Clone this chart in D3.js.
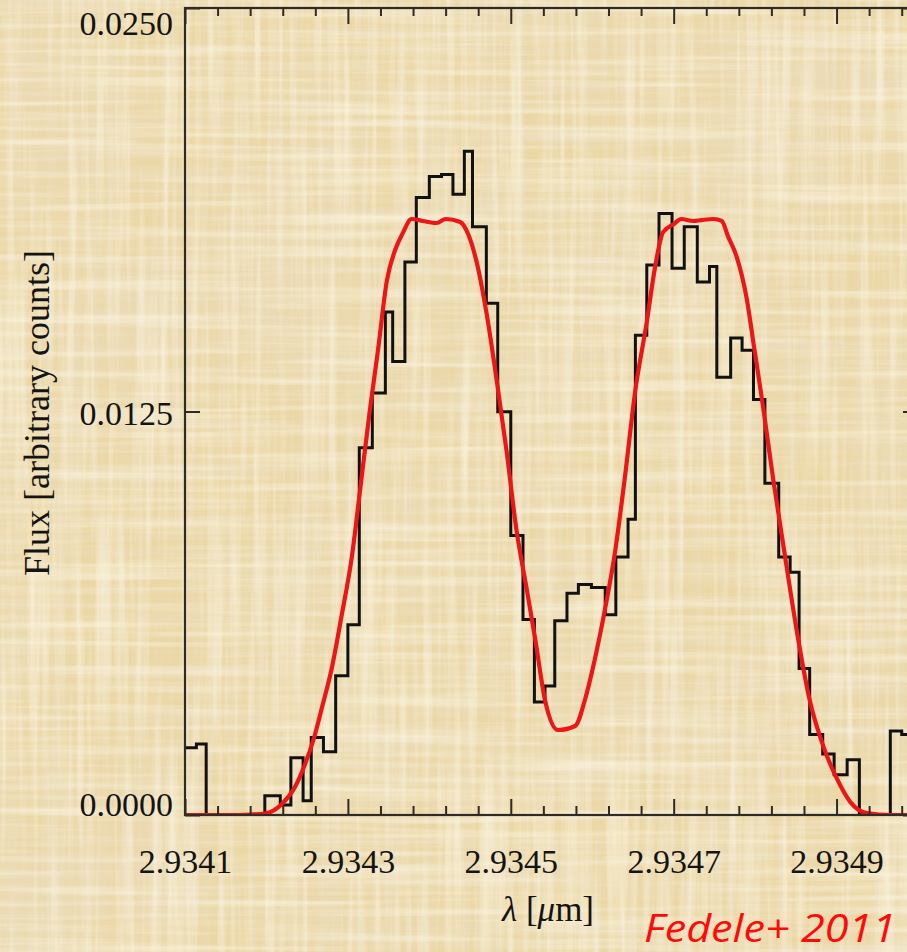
<!DOCTYPE html>
<html>
<head>
<meta charset="utf-8">
<script src="https://cdn.jsdelivr.net/npm/d3@7"></script>
<style>
  html, body { margin: 0; padding: 0; background: #ead6a2; overflow: hidden; }
  svg { display: block; }
</style>
</head>
<body>
<svg id="chart" width="907" height="952"></svg>
<script>
// Observed spectrum: bin edges (µm) and flux per bin (arbitrary counts)
const binEdges = [
  2.934098, 2.934114, 2.934126, 2.934140, 2.934155, 2.934169, 2.934184, 2.934198,
  2.934217, 2.934230, 2.934245, 2.934255, 2.934270, 2.934285, 2.934300, 2.934314,
  2.934330, 2.934346, 2.934355, 2.934370, 2.934384, 2.934400, 2.934415, 2.934429,
  2.934443, 2.934453, 2.934470, 2.934484, 2.934500, 2.934515, 2.934529, 2.934542,
  2.934554, 2.934569, 2.934583, 2.934599, 2.934616, 2.934629, 2.934644, 2.934653,
  2.934667, 2.934682, 2.934698, 2.934713, 2.934729, 2.934744, 2.934753, 2.934770,
  2.934784, 2.934798, 2.934812, 2.934829, 2.934843, 2.934854, 2.934867, 2.934883,
  2.934897, 2.934913, 2.934928, 2.934947, 2.934966, 2.934980, 2.934994, 2.935000
];
const binFlux = [
  0.00208, 0.00220, 0, 0, 0, 0, 0,
  0.00060, 0.00031, 0.00177, 0.00044, 0.00240, 0.00196, 0.00431, 0.00589,
  0.01138, 0.01307, 0.01558, 0.01405, 0.01713, 0.01913, 0.01978, 0.01984,
  0.01923, 0.02056, 0.01822, 0.01585, 0.01249, 0.00866, 0.00606, 0.00350,
  0.00400, 0.00602, 0.00687, 0.00714, 0.00705, 0.00620, 0.00799, 0.00916,
  0.01486, 0.01704, 0.01863, 0.01694, 0.01822, 0.01651, 0.01699, 0.01356,
  0.01478, 0.01440, 0.01287, 0.01028, 0.00799, 0.00752, 0.00454, 0.00249,
  0.00189, 0.00125, 0.00171, 0, 0, 0.00260, 0.00249
];

// Model line profile (µm, flux)
const modelWave = [
  2.934100, 2.934155, 2.934180, 2.934198, 2.934219, 2.934235, 2.934247, 2.934258,
  2.934268, 2.934280, 2.934292, 2.934305, 2.934315, 2.934327, 2.934337, 2.934348,
  2.934358, 2.934368, 2.934378, 2.934392, 2.934409, 2.934420, 2.934438, 2.934448,
  2.934458, 2.934470, 2.934483, 2.934495, 2.934507, 2.934520, 2.934530, 2.934542,
  2.934558, 2.934579, 2.934591, 2.934603, 2.934616, 2.934628, 2.934640, 2.934653,
  2.934667, 2.934677, 2.934687, 2.934700, 2.934709, 2.934724, 2.934734, 2.934749,
  2.934759, 2.934767, 2.934777, 2.934790, 2.934798, 2.934810, 2.934822, 2.934835,
  2.934851, 2.934867, 2.934884, 2.934900, 2.934917, 2.934937, 2.934966, 2.935000
];
const modelFlux = [
  0, 0, 0.000016, 0.000047, 0.000341, 0.000867, 0.001549, 0.002354,
  0.003315, 0.004523, 0.006134, 0.008024, 0.010068, 0.012546, 0.014405, 0.016574,
  0.017503, 0.018057, 0.018463, 0.018402, 0.018340, 0.018463, 0.018370, 0.017975,
  0.017138, 0.015582, 0.013414, 0.011245, 0.008829, 0.006939, 0.005452, 0.003563,
  0.002633, 0.002757, 0.003563, 0.004802, 0.006413, 0.008147, 0.010440, 0.013166,
  0.015273, 0.016946, 0.018055, 0.018302, 0.018463, 0.018402, 0.018430, 0.018463,
  0.018402, 0.017910, 0.017320, 0.015950, 0.014620, 0.012610, 0.010440, 0.008300,
  0.005730, 0.003560, 0.002110, 0.001150, 0.000400, 0.000060, 0, 0
];

const xDomain = [2.9341, 2.9350];
const yDomain = [0, 0.025];
const xMajorTicks = [2.9341, 2.9343, 2.9345, 2.9347, 2.9349];
const xMinorStep = 0.00004;
const yTicks = [0, 0.0125, 0.025];

const W = 907, H = 952;
const plot = { left: 185, right: 918, top: 8, bottom: 815 };

const svg = d3.select("#chart");
const defs = svg.append("defs");

// Papyrus-like background texture: soft blotches plus fine fibres
function fiberFilter(id, freq, seed, color, gain, bias) {
  const f = defs.append("filter").attr("id", id)
    .attr("x", 0).attr("y", 0).attr("width", W).attr("height", H)
    .attr("filterUnits", "userSpaceOnUse");
  f.append("feTurbulence").attr("type", "fractalNoise")
    .attr("baseFrequency", freq).attr("numOctaves", 3).attr("seed", seed);
  const c = d3.color(color);
  f.append("feColorMatrix").attr("type", "matrix").attr("values", [
    0, 0, 0, 0, c.r / 255,
    0, 0, 0, 0, c.g / 255,
    0, 0, 0, 0, c.b / 255,
    gain, 0, 0, 0, bias
  ].join(" "));
}
fiberFilter("blotch", "0.005 0.005", 11, "#d2b274", 1.6, -0.68);
fiberFilter("hdark", "0.003 0.11", 4, "#d4b983", 1.5, -0.62);
fiberFilter("vdark", "0.11 0.003", 9, "#d4b983", 1.5, -0.62);
fiberFilter("hlight", "0.004 0.13", 21, "#f6e9c4", -1.4, 0.80);
fiberFilter("vlight", "0.13 0.004", 27, "#f6e9c4", -1.4, 0.80);

const bg = svg.append("g");
bg.append("rect").attr("width", W).attr("height", H).attr("fill", "#ebd7a4");
["blotch", "hdark", "vdark", "hlight", "vlight"].forEach(id => {
  bg.append("rect").attr("width", W).attr("height", H).attr("filter", `url(#${id})`);
});

defs.append("clipPath").attr("id", "plotClip")
  .append("rect")
  .attr("x", plot.left).attr("y", plot.top)
  .attr("width", plot.right - plot.left).attr("height", plot.bottom - plot.top);

const x = d3.scaleLinear().domain(xDomain).range([plot.left, plot.right]);
const y = d3.scaleLinear().domain(yDomain).range([plot.bottom, plot.top]);
// tick labels sit slightly inside the frame vertically
const yLabelPos = d3.scaleLinear().domain(yDomain).range([804, 23]);

const axisColor = "#2e2a24";
const serif = "'Liberation Serif', 'Times New Roman', serif";

// Data layers
const data = svg.append("g").attr("clip-path", "url(#plotClip)");

const histPts = [[binEdges[0], 0]]
  .concat(binEdges.map((e, i) => [e, binFlux[Math.min(i, binFlux.length - 1)]]))
  .concat([[binEdges[binEdges.length - 1], 0]]);
const stepLine = d3.line().x(d => x(d[0])).y(d => y(d[1])).curve(d3.curveStepAfter);
data.append("path").attr("d", stepLine(histPts))
  .attr("fill", "none").attr("stroke", "#111").attr("stroke-width", 3)
  .attr("stroke-linejoin", "miter");

const modelLine = d3.line().x(d => x(d[0])).y(d => y(d[1])).curve(d3.curveMonotoneX);
data.append("path").attr("d", modelLine(modelWave.map((w, i) => [w, modelFlux[i]])))
  .attr("fill", "none").attr("stroke", "#ec1616").attr("stroke-width", 4.2)
  .attr("stroke-linejoin", "round");

// Axes (ticks pointing inward on all four sides)
const nMinor = Math.round((xDomain[1] - xDomain[0]) / xMinorStep);
const minorTicks = d3.range(nMinor + 1).map(i => xDomain[0] + i * xMinorStep)
  .filter(v => !xMajorTicks.some(m => Math.abs(m - v) < 1e-9));

function styleAxis(g) {
  g.select(".domain").remove();
  g.selectAll("line").attr("stroke", axisColor).attr("stroke-width", 2);
}

const gBottom = svg.append("g").attr("transform", `translate(0,${plot.bottom})`);
gBottom.call(d3.axisBottom(x).tickValues(minorTicks).tickSize(-9).tickFormat(""));
gBottom.call(styleAxis);
const gBottomMaj = svg.append("g").attr("transform", `translate(0,${plot.bottom})`);
gBottomMaj.call(d3.axisBottom(x).tickValues(xMajorTicks).tickSize(-16)
  .tickPadding(58).tickFormat(d3.format(".4f")));
gBottomMaj.call(styleAxis);
gBottomMaj.selectAll("text").attr("font-family", serif).attr("font-size", 34)
  .attr("fill", "#141414").attr("dy", "0");

const gTop = svg.append("g").attr("transform", `translate(0,${plot.top})`);
gTop.call(d3.axisTop(x).tickValues(minorTicks).tickSize(-8).tickFormat(""));
gTop.call(styleAxis);
const gTopMaj = svg.append("g").attr("transform", `translate(0,${plot.top})`);
gTopMaj.call(d3.axisTop(x).tickValues(xMajorTicks).tickSize(-16).tickFormat(""));
gTopMaj.call(styleAxis);

const gLeft = svg.append("g").attr("transform", `translate(${plot.left},0)`);
gLeft.call(d3.axisLeft(y).tickValues(yTicks).tickSize(-15).tickFormat(""));
gLeft.call(styleAxis);
const gRight = svg.append("g").attr("transform", `translate(${plot.right},0)`);
gRight.call(d3.axisRight(y).tickValues(yTicks).tickSize(-15).tickFormat(""));
gRight.call(styleAxis);

svg.append("g").selectAll("text").data(yTicks).join("text")
  .attr("x", 173).attr("y", d => yLabelPos(d)).attr("dy", "0.35em")
  .attr("text-anchor", "end")
  .attr("font-family", serif).attr("font-size", 34).attr("fill", "#141414")
  .text(d3.format(".4f"));

// Frame
svg.append("rect")
  .attr("x", plot.left).attr("y", plot.top)
  .attr("width", plot.right - plot.left).attr("height", plot.bottom - plot.top)
  .attr("fill", "none").attr("stroke", axisColor).attr("stroke-width", 2.2);

// Axis titles
const xt = svg.append("text")
  .attr("x", 548).attr("y", 921).attr("text-anchor", "middle")
  .attr("font-family", serif).attr("font-size", 35).attr("fill", "#141414");
xt.append("tspan").attr("font-style", "italic").text("λ");
xt.append("tspan").text(" [");
xt.append("tspan").attr("font-style", "italic").text("μ");
xt.append("tspan").text("m]");

svg.append("text")
  .attr("transform", "translate(49,413) rotate(-90)")
  .attr("text-anchor", "middle")
  .attr("font-family", serif).attr("font-size", 36).attr("fill", "#141414")
  .text("Flux [arbitrary counts]");

// Citation
svg.append("text")
  .attr("x", 644).attr("y", 942)
  .attr("font-family", "'Open Sans', 'Noto Sans', sans-serif")
  .attr("font-style", "italic").attr("font-size", 38)
  .attr("textLength", 252).attr("lengthAdjust", "spacingAndGlyphs")
  .attr("fill", "#ff0a0a")
  .text("Fedele+ 2011");
</script>
</body>
</html>
